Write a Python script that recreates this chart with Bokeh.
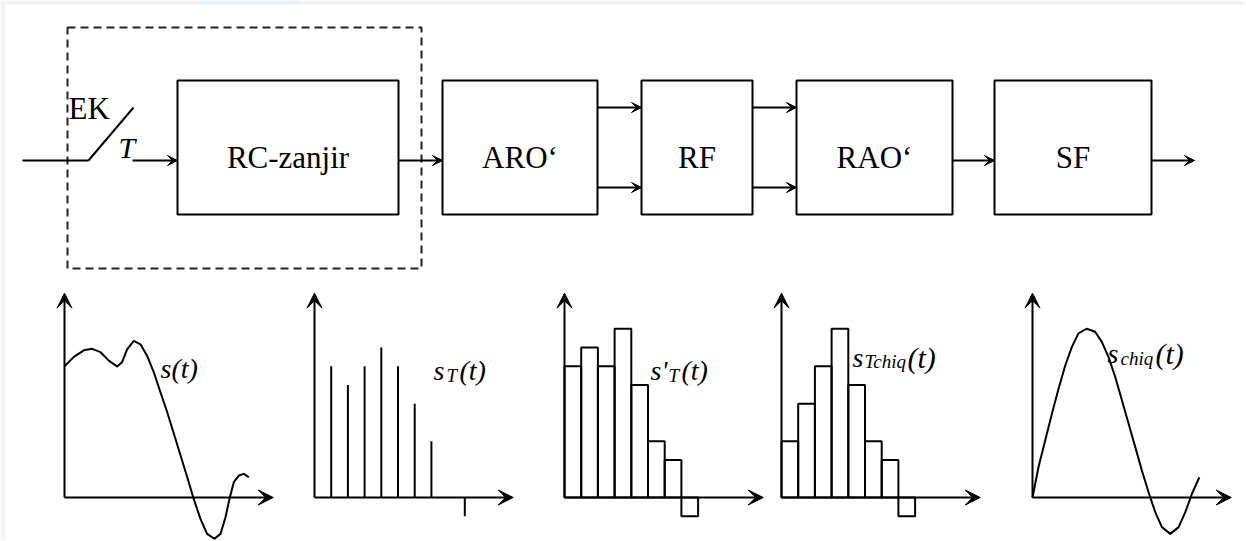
from bokeh.plotting import figure
from bokeh.models import Range1d, Arrow, VeeHead
from bokeh.core.properties import value
from bokeh.embed import file_html
from bokeh.resources import INLINE

# ---------------- data ----------------
block_labels = ["RC-zanjir", "ARO\u2018", "RF", "RAO\u2018", "SF"]

# s(t): continuous input signal (time units, amplitude units)
s_t = [0.0, 0.56, 1.16, 1.65, 2.16, 2.65, 3.15, 3.45, 3.75, 4.15, 4.55, 4.95,
       5.35, 5.75, 6.15, 6.55, 6.95, 7.35, 7.71, 8.14, 8.54, 8.98, 9.34, 9.64,
       9.9, 10.14, 10.44, 10.74, 11.04]
s_v = [7.0, 7.5, 7.85, 7.93, 7.75, 7.3, 6.99, 7.22, 7.9, 8.35, 8.17, 7.55,
       6.67, 5.6, 4.55, 3.4, 2.24, 1.08, 0.0, -1.14, -1.94, -2.2, -1.94, -1.05,
       0.0, 0.82, 1.17, 1.26, 1.08]

# s_T(t): samples
sample_t = [1, 2, 3, 4, 5, 6, 7]
sample_v = [7, 6, 7, 8, 7, 5, 3]
period_tick_t = [9]

# s'_T(t): held (staircase) signal
held_v = [7, 8, 7, 9, 6, 3, 2, -1]

# s_Tchiq(t): output staircase
out_held_v = [3, 5, 7, 9, 6, 3, 2, -1]

# s_chiq(t): reconstructed output signal
rec_t = [0.0, 0.36, 0.76, 1.16, 1.56, 1.96, 2.36, 2.75, 3.25, 3.75, 4.15, 4.55,
         4.95, 5.35, 5.75, 6.15, 6.55, 6.95, 7.35, 7.75, 8.25, 8.75, 9.15, 9.55, 9.99]
rec_v = [0.0, 1.63, 3.04, 4.46, 5.8, 7.04, 8.03, 8.75, 9.0, 8.84, 8.3, 7.5,
         6.44, 5.2, 3.95, 2.7, 1.44, 0.28, -0.78, -1.58, -1.94, -1.58, -0.78, 0.2, 1.08]

# ---------------- layout (page pixel coordinates) ----------------
W, H = 1244, 540
X0, Y0 = 0, 0
BOX_TOP, BOX_BOTTOM = 80, 214
box_left = [177, 442, 641, 796, 994]
box_right = [398, 597, 752, 952, 1151]
LABEL_BASE = 157
FONT = value("Liberation Serif")

SX, SY = 16.7, 18.75          # pixels per time unit / amplitude unit
AXIS_Y = 497
panel_x0 = [64, 314, 564, 781, 1032]
y_axis_top = 10.9
x_axis_end = [12.5, 11.9, 11.9, 11.9, 11.9]

p = figure(width=W, height=H, x_range=Range1d(X0, X0 + W), y_range=Range1d(Y0 + H, Y0),
           output_backend="svg", toolbar_location=None, tools="", min_border=0,
           x_axis_location=None, y_axis_location=None,
           background_fill_color="white", border_fill_color="white")
p.grid.grid_line_color = None
p.outline_line_color = None

p.extra_y_ranges = {"sig": Range1d(-(Y0 + H - AXIS_Y) / SY, (AXIS_Y - Y0) / SY)}
xr = {}
for i, ox in enumerate(panel_x0):
    st = -(ox - X0) / SX
    xr[f"p{i}"] = Range1d(st, st + W / SX)
p.extra_x_ranges = xr


def arrow(x0, y0, x1, y1, size, lw=2, **rng):
    p.add_layout(Arrow(end=VeeHead(size=size, fill_color="black", line_color="black", line_width=1),
                       x_start=x0, y_start=y0, x_end=x1, y_end=y1,
                       line_color="black", line_width=lw, **rng))


# page edge shading of the scanned picture
p.quad(left=[0, 0], right=[W, 5], top=[0, 0], bottom=[4, H],
       fill_color="#f3f3f3", line_color=None)
p.quad(left=[200], right=[300], top=[0], bottom=[4], fill_color="#e3f1f7", line_color=None)

# dashed frame around switch + RC chain
p.quad(left=[67], right=[421], top=[27], bottom=[268], fill_color=None,
       line_color="#222222", line_width=2, line_dash="8 5")

# blocks
p.quad(left=box_left, right=box_right, top=[BOX_TOP] * 5, bottom=[BOX_BOTTOM] * 5,
       fill_color=None, line_color="black", line_width=2)
centers = [(l + r) / 2 for l, r in zip(box_left, box_right)]
p.text(x=centers, y=[LABEL_BASE] * 5, text=block_labels, text_font=FONT,
       text_font_size="31px", text_align="center", text_baseline="alphabetic",
       text_color="black")

# electronic key (switch)
p.line([22, 88], [160, 160], line_color="black", line_width=2)
p.line([88, 133], [160, 107], line_color="black", line_width=2)
p.text(x=[68], y=[108], text=["EK"], text_font=FONT, text_font_size="31px",
       text_baseline="alphabetic", text_color="black")
p.text(x=[118], y=[147], text=["T"], text_font=FONT, text_font_size="30px",
       text_font_style="italic", text_baseline="alphabetic", text_color="black")

# connections
arrow(132, 160, 177, 160, 10)
arrow(398, 160, 442, 160, 10)
for yy in (107, 187):
    arrow(597, yy, 641, yy, 10)
    arrow(752, yy, 796, yy, 10)
arrow(952, 160, 994, 160, 10)
arrow(1151, 160, 1194, 160, 10)

# ---------------- signal panels ----------------
for i in range(5):
    rn = dict(x_range_name=f"p{i}", y_range_name="sig")
    arrow(0, 0, 0, y_axis_top, 15, **rn)
    arrow(0, 0, x_axis_end[i], 0, 15, **rn)

r0 = dict(x_range_name="p0", y_range_name="sig")
p.line(s_t, s_v, line_color="black", line_width=2, line_join="round", **r0)

r1 = dict(x_range_name="p1", y_range_name="sig")
p.segment(x0=sample_t, y0=[0] * len(sample_t), x1=sample_t, y1=sample_v,
          line_color="black", line_width=2, **r1)
p.segment(x0=period_tick_t, y0=[0], x1=period_tick_t, y1=[-1],
          line_color="black", line_width=2, **r1)

r2 = dict(x_range_name="p2", y_range_name="sig")
n2 = len(held_v)
p.quad(left=list(range(n2)), right=list(range(1, n2 + 1)), bottom=[0] * n2, top=held_v,
       fill_color=None, line_color="black", line_width=2, **r2)

r3 = dict(x_range_name="p3", y_range_name="sig")
n3 = len(out_held_v)
p.quad(left=list(range(n3)), right=list(range(1, n3 + 1)), bottom=[0] * n3, top=out_held_v,
       fill_color=None, line_color="black", line_width=2, **r3)

r4 = dict(x_range_name="p4", y_range_name="sig")
p.line(rec_t, rec_v, line_color="black", line_width=2, line_join="round", **r4)

# signal labels (page pixel coordinates): text, x, baseline, size
label_pieces = [
    ("s(t)", 160, 368, 28),
    ("s", 433, 370, 28), ("T", 446, 375, 19), ("(t)", 459, 370, 28),
    ("s'", 650, 370, 28), ("T", 668, 375, 19), ("(t)", 681, 370, 28),
    ("s", 852, 357, 28), ("Tchiq", 864, 361, 19), ("(t)", 907, 357, 30),
    ("s", 1107, 353, 28), ("chiq", 1120, 358, 19), ("(t)", 1155, 353, 30),
]
for txt, x, y, sz in label_pieces:
    p.text(x=[x], y=[y], text=[txt], text_font=FONT, text_font_size=f"{sz}px",
           text_font_style="italic", text_baseline="alphabetic", text_color="black")

open("out.html", "w").write(file_html(p, INLINE))
